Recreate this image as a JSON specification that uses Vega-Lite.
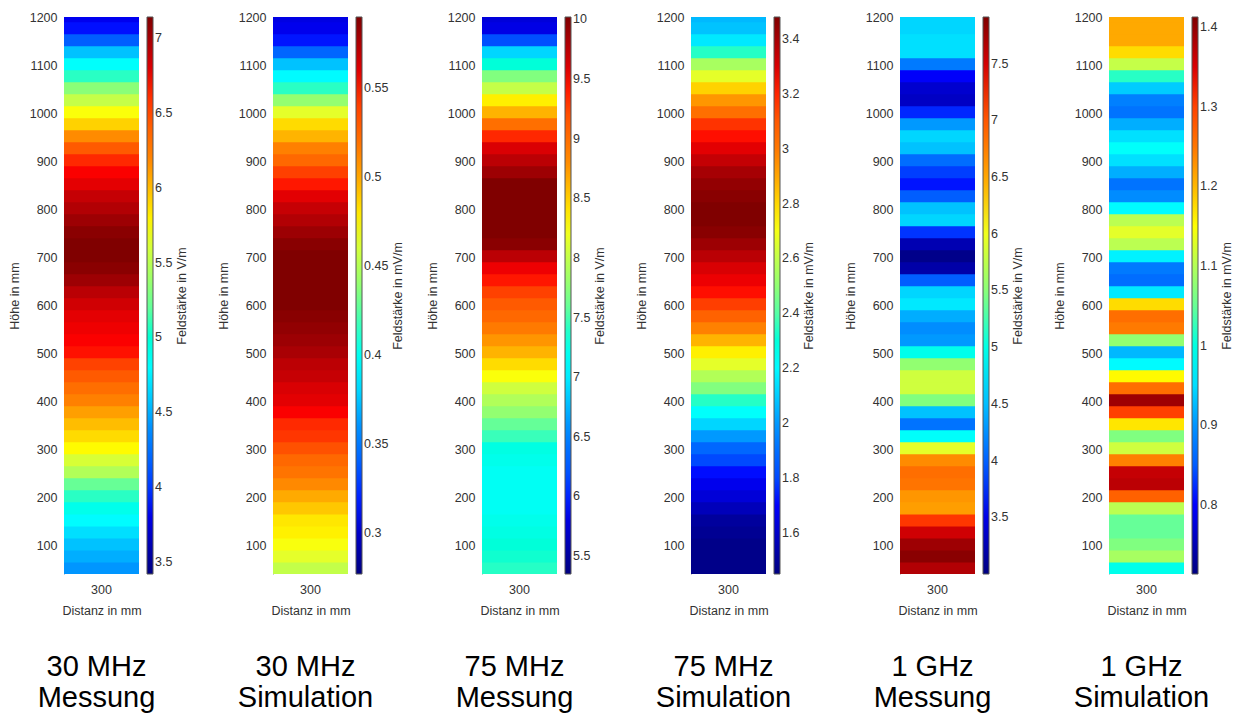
{
  "$schema": "https://vega.github.io/schema/vega-lite/v6.json",
  "padding": {"left": 8, "top": 11, "right": 0, "bottom": 0},
  "background": "white",
  "datasets": {
    "m30": [
      {"d":300,"h0":1187.5,"h1":1212.5,"v":3.83},{"d":300,"h0":1162.5,"h1":1187.5,"v":3.90},{"d":300,"h0":1137.5,"h1":1162.5,"v":4.16},{"d":300,"h0":1112.5,"h1":1137.5,"v":4.57},{"d":300,"h0":1087.5,"h1":1112.5,"v":4.83},{"d":300,"h0":1062.5,"h1":1087.5,"v":5.06},{"d":300,"h0":1037.5,"h1":1062.5,"v":5.32},{"d":300,"h0":1012.5,"h1":1037.5,"v":5.54},{"d":300,"h0":987.5,"h1":1012.5,"v":5.73},{"d":300,"h0":962.5,"h1":987.5,"v":5.91},{"d":300,"h0":937.5,"h1":962.5,"v":6.17},{"d":300,"h0":912.5,"h1":937.5,"v":6.43},{"d":300,"h0":887.5,"h1":912.5,"v":6.62},{"d":300,"h0":862.5,"h1":887.5,"v":6.69},{"d":300,"h0":837.5,"h1":862.5,"v":6.77},{"d":300,"h0":812.5,"h1":837.5,"v":6.88},{"d":300,"h0":787.5,"h1":812.5,"v":6.95},{"d":300,"h0":762.5,"h1":787.5,"v":7.03},{"d":300,"h0":737.5,"h1":762.5,"v":7.10},{"d":300,"h0":712.5,"h1":737.5,"v":7.14},{"d":300,"h0":687.5,"h1":712.5,"v":7.14},{"d":300,"h0":662.5,"h1":687.5,"v":7.10},{"d":300,"h0":637.5,"h1":662.5,"v":7.03},{"d":300,"h0":612.5,"h1":637.5,"v":6.92},{"d":300,"h0":587.5,"h1":612.5,"v":6.84},{"d":300,"h0":562.5,"h1":587.5,"v":6.77},{"d":300,"h0":537.5,"h1":562.5,"v":6.73},{"d":300,"h0":512.5,"h1":537.5,"v":6.69},{"d":300,"h0":487.5,"h1":512.5,"v":6.66},{"d":300,"h0":462.5,"h1":487.5,"v":6.54},{"d":300,"h0":437.5,"h1":462.5,"v":6.43},{"d":300,"h0":412.5,"h1":437.5,"v":6.32},{"d":300,"h0":387.5,"h1":412.5,"v":6.21},{"d":300,"h0":362.5,"h1":387.5,"v":6.10},{"d":300,"h0":337.5,"h1":362.5,"v":5.99},{"d":300,"h0":312.5,"h1":337.5,"v":5.88},{"d":300,"h0":287.5,"h1":312.5,"v":5.76},{"d":300,"h0":262.5,"h1":287.5,"v":5.61},{"d":300,"h0":237.5,"h1":262.5,"v":5.47},{"d":300,"h0":212.5,"h1":237.5,"v":5.21},{"d":300,"h0":187.5,"h1":212.5,"v":5.06},{"d":300,"h0":162.5,"h1":187.5,"v":4.91},{"d":300,"h0":137.5,"h1":162.5,"v":4.80},{"d":300,"h0":112.5,"h1":137.5,"v":4.68},{"d":300,"h0":87.5,"h1":112.5,"v":4.57},{"d":300,"h0":62.5,"h1":87.5,"v":4.50},{"d":300,"h0":37.5,"h1":62.5,"v":4.42}
    ],
    "s30": [
      {"d":300,"h0":1187.5,"h1":1212.5,"v":0.308},{"d":300,"h0":1162.5,"h1":1187.5,"v":0.311},{"d":300,"h0":1137.5,"h1":1162.5,"v":0.318},{"d":300,"h0":1112.5,"h1":1137.5,"v":0.343},{"d":300,"h0":1087.5,"h1":1112.5,"v":0.374},{"d":300,"h0":1062.5,"h1":1087.5,"v":0.393},{"d":300,"h0":1037.5,"h1":1062.5,"v":0.415},{"d":300,"h0":1012.5,"h1":1037.5,"v":0.440},{"d":300,"h0":987.5,"h1":1012.5,"v":0.465},{"d":300,"h0":962.5,"h1":987.5,"v":0.484},{"d":300,"h0":937.5,"h1":962.5,"v":0.496},{"d":300,"h0":912.5,"h1":937.5,"v":0.512},{"d":300,"h0":887.5,"h1":912.5,"v":0.524},{"d":300,"h0":862.5,"h1":887.5,"v":0.540},{"d":300,"h0":837.5,"h1":862.5,"v":0.549},{"d":300,"h0":812.5,"h1":837.5,"v":0.559},{"d":300,"h0":787.5,"h1":812.5,"v":0.568},{"d":300,"h0":762.5,"h1":787.5,"v":0.574},{"d":300,"h0":737.5,"h1":762.5,"v":0.581},{"d":300,"h0":712.5,"h1":737.5,"v":0.587},{"d":300,"h0":687.5,"h1":712.5,"v":0.590},{"d":300,"h0":662.5,"h1":687.5,"v":0.590},{"d":300,"h0":637.5,"h1":662.5,"v":0.590},{"d":300,"h0":612.5,"h1":637.5,"v":0.590},{"d":300,"h0":587.5,"h1":612.5,"v":0.590},{"d":300,"h0":562.5,"h1":587.5,"v":0.587},{"d":300,"h0":537.5,"h1":562.5,"v":0.584},{"d":300,"h0":512.5,"h1":537.5,"v":0.581},{"d":300,"h0":487.5,"h1":512.5,"v":0.577},{"d":300,"h0":462.5,"h1":487.5,"v":0.571},{"d":300,"h0":437.5,"h1":462.5,"v":0.568},{"d":300,"h0":412.5,"h1":437.5,"v":0.562},{"d":300,"h0":387.5,"h1":412.5,"v":0.559},{"d":300,"h0":362.5,"h1":387.5,"v":0.552},{"d":300,"h0":337.5,"h1":362.5,"v":0.546},{"d":300,"h0":312.5,"h1":337.5,"v":0.543},{"d":300,"h0":287.5,"h1":312.5,"v":0.534},{"d":300,"h0":262.5,"h1":287.5,"v":0.524},{"d":300,"h0":237.5,"h1":262.5,"v":0.518},{"d":300,"h0":212.5,"h1":237.5,"v":0.509},{"d":300,"h0":187.5,"h1":212.5,"v":0.499},{"d":300,"h0":162.5,"h1":187.5,"v":0.490},{"d":300,"h0":137.5,"h1":162.5,"v":0.480},{"d":300,"h0":112.5,"h1":137.5,"v":0.477},{"d":300,"h0":87.5,"h1":112.5,"v":0.471},{"d":300,"h0":62.5,"h1":87.5,"v":0.465},{"d":300,"h0":37.5,"h1":62.5,"v":0.455}
    ],
    "m75": [
      {"d":300,"h0":1187.5,"h1":1212.5,"v":5.77},{"d":300,"h0":1162.5,"h1":1187.5,"v":5.82},{"d":300,"h0":1137.5,"h1":1162.5,"v":6.19},{"d":300,"h0":1112.5,"h1":1137.5,"v":6.89},{"d":300,"h0":1087.5,"h1":1112.5,"v":7.31},{"d":300,"h0":1062.5,"h1":1087.5,"v":7.69},{"d":300,"h0":1037.5,"h1":1062.5,"v":8.01},{"d":300,"h0":1012.5,"h1":1037.5,"v":8.34},{"d":300,"h0":987.5,"h1":1012.5,"v":8.62},{"d":300,"h0":962.5,"h1":987.5,"v":8.99},{"d":300,"h0":937.5,"h1":962.5,"v":9.37},{"d":300,"h0":912.5,"h1":937.5,"v":9.60},{"d":300,"h0":887.5,"h1":912.5,"v":9.74},{"d":300,"h0":862.5,"h1":887.5,"v":9.88},{"d":300,"h0":837.5,"h1":862.5,"v":10.02},{"d":300,"h0":812.5,"h1":837.5,"v":10.02},{"d":300,"h0":787.5,"h1":812.5,"v":10.02},{"d":300,"h0":762.5,"h1":787.5,"v":10.02},{"d":300,"h0":737.5,"h1":762.5,"v":10.02},{"d":300,"h0":712.5,"h1":737.5,"v":9.97},{"d":300,"h0":687.5,"h1":712.5,"v":9.74},{"d":300,"h0":662.5,"h1":687.5,"v":9.51},{"d":300,"h0":637.5,"h1":662.5,"v":9.41},{"d":300,"h0":612.5,"h1":637.5,"v":9.27},{"d":300,"h0":587.5,"h1":612.5,"v":9.13},{"d":300,"h0":562.5,"h1":587.5,"v":9.04},{"d":300,"h0":537.5,"h1":562.5,"v":8.90},{"d":300,"h0":512.5,"h1":537.5,"v":8.76},{"d":300,"h0":487.5,"h1":512.5,"v":8.62},{"d":300,"h0":462.5,"h1":487.5,"v":8.43},{"d":300,"h0":437.5,"h1":462.5,"v":8.25},{"d":300,"h0":412.5,"h1":437.5,"v":8.06},{"d":300,"h0":387.5,"h1":412.5,"v":7.92},{"d":300,"h0":362.5,"h1":387.5,"v":7.78},{"d":300,"h0":337.5,"h1":362.5,"v":7.59},{"d":300,"h0":312.5,"h1":337.5,"v":7.45},{"d":300,"h0":287.5,"h1":312.5,"v":7.26},{"d":300,"h0":262.5,"h1":287.5,"v":7.22},{"d":300,"h0":237.5,"h1":262.5,"v":7.17},{"d":300,"h0":212.5,"h1":237.5,"v":7.17},{"d":300,"h0":187.5,"h1":212.5,"v":7.17},{"d":300,"h0":162.5,"h1":187.5,"v":7.17},{"d":300,"h0":137.5,"h1":162.5,"v":7.22},{"d":300,"h0":112.5,"h1":137.5,"v":7.26},{"d":300,"h0":87.5,"h1":112.5,"v":7.31},{"d":300,"h0":62.5,"h1":87.5,"v":7.36},{"d":300,"h0":37.5,"h1":62.5,"v":7.40}
    ],
    "s75": [
      {"d":300,"h0":1187.5,"h1":1212.5,"v":2.06},{"d":300,"h0":1162.5,"h1":1187.5,"v":2.08},{"d":300,"h0":1137.5,"h1":1162.5,"v":2.16},{"d":300,"h0":1112.5,"h1":1137.5,"v":2.34},{"d":300,"h0":1087.5,"h1":1112.5,"v":2.55},{"d":300,"h0":1062.5,"h1":1087.5,"v":2.67},{"d":300,"h0":1037.5,"h1":1062.5,"v":2.81},{"d":300,"h0":1012.5,"h1":1037.5,"v":2.93},{"d":300,"h0":987.5,"h1":1012.5,"v":3.03},{"d":300,"h0":962.5,"h1":987.5,"v":3.18},{"d":300,"h0":937.5,"h1":962.5,"v":3.22},{"d":300,"h0":912.5,"h1":937.5,"v":3.28},{"d":300,"h0":887.5,"h1":912.5,"v":3.34},{"d":300,"h0":862.5,"h1":887.5,"v":3.40},{"d":300,"h0":837.5,"h1":862.5,"v":3.44},{"d":300,"h0":812.5,"h1":837.5,"v":3.46},{"d":300,"h0":787.5,"h1":812.5,"v":3.48},{"d":300,"h0":762.5,"h1":787.5,"v":3.48},{"d":300,"h0":737.5,"h1":762.5,"v":3.46},{"d":300,"h0":712.5,"h1":737.5,"v":3.42},{"d":300,"h0":687.5,"h1":712.5,"v":3.36},{"d":300,"h0":662.5,"h1":687.5,"v":3.30},{"d":300,"h0":637.5,"h1":662.5,"v":3.26},{"d":300,"h0":612.5,"h1":637.5,"v":3.22},{"d":300,"h0":587.5,"h1":612.5,"v":3.16},{"d":300,"h0":562.5,"h1":587.5,"v":3.07},{"d":300,"h0":537.5,"h1":562.5,"v":2.97},{"d":300,"h0":512.5,"h1":537.5,"v":2.87},{"d":300,"h0":487.5,"h1":512.5,"v":2.75},{"d":300,"h0":462.5,"h1":487.5,"v":2.67},{"d":300,"h0":437.5,"h1":462.5,"v":2.57},{"d":300,"h0":412.5,"h1":437.5,"v":2.47},{"d":300,"h0":387.5,"h1":412.5,"v":2.34},{"d":300,"h0":362.5,"h1":387.5,"v":2.22},{"d":300,"h0":337.5,"h1":362.5,"v":2.12},{"d":300,"h0":312.5,"h1":337.5,"v":2.00},{"d":300,"h0":287.5,"h1":312.5,"v":1.88},{"d":300,"h0":262.5,"h1":287.5,"v":1.80},{"d":300,"h0":237.5,"h1":262.5,"v":1.71},{"d":300,"h0":212.5,"h1":237.5,"v":1.67},{"d":300,"h0":187.5,"h1":212.5,"v":1.63},{"d":300,"h0":162.5,"h1":187.5,"v":1.57},{"d":300,"h0":137.5,"h1":162.5,"v":1.51},{"d":300,"h0":112.5,"h1":137.5,"v":1.49},{"d":300,"h0":87.5,"h1":112.5,"v":1.47},{"d":300,"h0":62.5,"h1":87.5,"v":1.47},{"d":300,"h0":37.5,"h1":62.5,"v":1.47}
    ],
    "m1g": [
      {"d":300,"h0":1187.5,"h1":1212.5,"v":4.62},{"d":300,"h0":1162.5,"h1":1187.5,"v":4.62},{"d":300,"h0":1137.5,"h1":1162.5,"v":4.67},{"d":300,"h0":1112.5,"h1":1137.5,"v":4.67},{"d":300,"h0":1087.5,"h1":1112.5,"v":4.18},{"d":300,"h0":1062.5,"h1":1087.5,"v":3.59},{"d":300,"h0":1037.5,"h1":1062.5,"v":3.39},{"d":300,"h0":1012.5,"h1":1037.5,"v":3.34},{"d":300,"h0":987.5,"h1":1012.5,"v":3.69},{"d":300,"h0":962.5,"h1":987.5,"v":4.33},{"d":300,"h0":937.5,"h1":962.5,"v":4.62},{"d":300,"h0":912.5,"h1":937.5,"v":4.52},{"d":300,"h0":887.5,"h1":912.5,"v":4.08},{"d":300,"h0":862.5,"h1":887.5,"v":3.79},{"d":300,"h0":837.5,"h1":862.5,"v":3.64},{"d":300,"h0":812.5,"h1":837.5,"v":3.98},{"d":300,"h0":787.5,"h1":812.5,"v":4.52},{"d":300,"h0":762.5,"h1":787.5,"v":4.62},{"d":300,"h0":737.5,"h1":762.5,"v":3.74},{"d":300,"h0":712.5,"h1":737.5,"v":3.25},{"d":300,"h0":687.5,"h1":712.5,"v":3.05},{"d":300,"h0":662.5,"h1":687.5,"v":3.20},{"d":300,"h0":637.5,"h1":662.5,"v":3.98},{"d":300,"h0":612.5,"h1":637.5,"v":4.62},{"d":300,"h0":587.5,"h1":612.5,"v":4.72},{"d":300,"h0":562.5,"h1":587.5,"v":4.42},{"d":300,"h0":537.5,"h1":562.5,"v":4.28},{"d":300,"h0":512.5,"h1":537.5,"v":4.33},{"d":300,"h0":487.5,"h1":512.5,"v":4.96},{"d":300,"h0":462.5,"h1":487.5,"v":5.55},{"d":300,"h0":437.5,"h1":462.5,"v":5.85},{"d":300,"h0":412.5,"h1":437.5,"v":5.85},{"d":300,"h0":387.5,"h1":412.5,"v":5.46},{"d":300,"h0":362.5,"h1":387.5,"v":4.52},{"d":300,"h0":337.5,"h1":362.5,"v":4.13},{"d":300,"h0":312.5,"h1":337.5,"v":4.87},{"d":300,"h0":287.5,"h1":312.5,"v":5.95},{"d":300,"h0":262.5,"h1":287.5,"v":6.63},{"d":300,"h0":237.5,"h1":262.5,"v":6.83},{"d":300,"h0":212.5,"h1":237.5,"v":6.78},{"d":300,"h0":187.5,"h1":212.5,"v":6.58},{"d":300,"h0":162.5,"h1":187.5,"v":6.54},{"d":300,"h0":137.5,"h1":162.5,"v":7.17},{"d":300,"h0":112.5,"h1":137.5,"v":7.52},{"d":300,"h0":87.5,"h1":112.5,"v":7.76},{"d":300,"h0":62.5,"h1":87.5,"v":7.86},{"d":300,"h0":37.5,"h1":62.5,"v":7.66}
    ],
    "s1g": [
      {"d":300,"h0":1187.5,"h1":1212.5,"v":1.21},{"d":300,"h0":1162.5,"h1":1187.5,"v":1.21},{"d":300,"h0":1137.5,"h1":1162.5,"v":1.21},{"d":300,"h0":1112.5,"h1":1137.5,"v":1.175},{"d":300,"h0":1087.5,"h1":1112.5,"v":1.112},{"d":300,"h0":1062.5,"h1":1087.5,"v":1.021},{"d":300,"h0":1037.5,"h1":1062.5,"v":0.937},{"d":300,"h0":1012.5,"h1":1037.5,"v":0.888},{"d":300,"h0":987.5,"h1":1012.5,"v":0.874},{"d":300,"h0":962.5,"h1":987.5,"v":0.916},{"d":300,"h0":937.5,"h1":962.5,"v":0.951},{"d":300,"h0":912.5,"h1":937.5,"v":0.979},{"d":300,"h0":887.5,"h1":912.5,"v":0.951},{"d":300,"h0":862.5,"h1":887.5,"v":0.916},{"d":300,"h0":837.5,"h1":862.5,"v":0.874},{"d":300,"h0":812.5,"h1":837.5,"v":0.895},{"d":300,"h0":787.5,"h1":812.5,"v":0.972},{"d":300,"h0":762.5,"h1":787.5,"v":1.105},{"d":300,"h0":737.5,"h1":762.5,"v":1.133},{"d":300,"h0":712.5,"h1":737.5,"v":1.105},{"d":300,"h0":687.5,"h1":712.5,"v":0.965},{"d":300,"h0":662.5,"h1":687.5,"v":0.881},{"d":300,"h0":637.5,"h1":662.5,"v":0.867},{"d":300,"h0":612.5,"h1":637.5,"v":0.958},{"d":300,"h0":587.5,"h1":612.5,"v":1.175},{"d":300,"h0":562.5,"h1":587.5,"v":1.259},{"d":300,"h0":537.5,"h1":562.5,"v":1.245},{"d":300,"h0":512.5,"h1":537.5,"v":1.077},{"d":300,"h0":487.5,"h1":512.5,"v":0.923},{"d":300,"h0":462.5,"h1":487.5,"v":0.972},{"d":300,"h0":437.5,"h1":462.5,"v":1.154},{"d":300,"h0":412.5,"h1":437.5,"v":1.259},{"d":300,"h0":387.5,"h1":412.5,"v":1.392},{"d":300,"h0":362.5,"h1":387.5,"v":1.301},{"d":300,"h0":337.5,"h1":362.5,"v":1.168},{"d":300,"h0":312.5,"h1":337.5,"v":1.063},{"d":300,"h0":287.5,"h1":312.5,"v":1.119},{"d":300,"h0":262.5,"h1":287.5,"v":1.238},{"d":300,"h0":237.5,"h1":262.5,"v":1.364},{"d":300,"h0":212.5,"h1":237.5,"v":1.371},{"d":300,"h0":187.5,"h1":212.5,"v":1.273},{"d":300,"h0":162.5,"h1":187.5,"v":1.105},{"d":300,"h0":137.5,"h1":162.5,"v":1.049},{"d":300,"h0":112.5,"h1":137.5,"v":1.049},{"d":300,"h0":87.5,"h1":112.5,"v":1.063},{"d":300,"h0":62.5,"h1":87.5,"v":1.091},{"d":300,"h0":37.5,"h1":62.5,"v":0.993}
    ]
  },
  "hconcat": [
    {
      "width": 75, "height": 557,
      "data": {"name": "m30"},
      "title": {"text": ["30 MHz", "Messung"]},
      "mark": {"type": "rect", "clip": true, "y2Offset": -0.8},
      "encoding": {
        "x": {"field": "d", "type": "ordinal", "scale": {"paddingInner": 0, "paddingOuter": 0}, "axis": {"title": "Distanz in mm"}},
        "y": {"field": "h0", "type": "quantitative", "scale": {"domain": [40, 1200], "nice": false, "zero": false}, "axis": {"title": "Höhe in mm", "values": [100,200,300,400,500,600,700,800,900,1000,1100,1200], "format": "d"}},
        "y2": {"field": "h1"},
        "color": {"field": "v", "type": "quantitative",
          "scale": {"domain": [3.42, 3.885, 4.35, 4.815, 5.28, 5.745, 6.21, 6.675, 7.14], "range": ["#000080","#0000ff","#0080ff","#00ffff","#80ff80","#ffff00","#ff8000","#ff0000","#800000"]},
          "legend": {"title": "Feldstärke in V/m", "values": [3.5,4,4.5,5,5.5,6,6.5,7], "format": "~g", "encode": {"title": {"update": {"angle": {"value": 270}}}}}}
      }
    },
    {
      "width": 75, "height": 557,
      "data": {"name": "s30"},
      "title": {"text": ["30 MHz", "Simulation"]},
      "mark": {"type": "rect", "clip": true, "y2Offset": -0.8},
      "encoding": {
        "x": {"field": "d", "type": "ordinal", "scale": {"paddingInner": 0, "paddingOuter": 0}, "axis": {"title": "Distanz in mm"}},
        "y": {"field": "h0", "type": "quantitative", "scale": {"domain": [40, 1200], "nice": false, "zero": false}, "axis": {"title": "Höhe in mm", "values": [100,200,300,400,500,600,700,800,900,1000,1100,1200], "format": "d"}},
        "y2": {"field": "h1"},
        "color": {"field": "v", "type": "quantitative",
          "scale": {"domain": [0.277, 0.316125, 0.35525, 0.394375, 0.4335, 0.472625, 0.51175, 0.550875, 0.59], "range": ["#000080","#0000ff","#0080ff","#00ffff","#80ff80","#ffff00","#ff8000","#ff0000","#800000"]},
          "legend": {"title": "Feldstärke in mV/m", "values": [0.3,0.35,0.4,0.45,0.5,0.55], "format": "~g", "encode": {"title": {"update": {"angle": {"value": 270}}}}}}
      }
    },
    {
      "width": 75, "height": 557,
      "data": {"name": "m75"},
      "title": {"text": ["75 MHz", "Messung"]},
      "mark": {"type": "rect", "clip": true, "y2Offset": -0.8},
      "encoding": {
        "x": {"field": "d", "type": "ordinal", "scale": {"paddingInner": 0, "paddingOuter": 0}, "axis": {"title": "Distanz in mm"}},
        "y": {"field": "h0", "type": "quantitative", "scale": {"domain": [40, 1200], "nice": false, "zero": false}, "axis": {"title": "Höhe in mm", "values": [100,200,300,400,500,600,700,800,900,1000,1100,1200], "format": "d"}},
        "y2": {"field": "h1"},
        "color": {"field": "v", "type": "quantitative",
          "scale": {"domain": [5.35, 5.93375, 6.5175, 7.10125, 7.685, 8.26875, 8.8525, 9.43625, 10.02], "range": ["#000080","#0000ff","#0080ff","#00ffff","#80ff80","#ffff00","#ff8000","#ff0000","#800000"]},
          "legend": {"title": "Feldstärke in V/m", "values": [5.5,6,6.5,7,7.5,8,8.5,9,9.5,10], "format": "~g", "encode": {"title": {"update": {"angle": {"value": 270}}}}}}
      }
    },
    {
      "width": 75, "height": 557,
      "data": {"name": "s75"},
      "title": {"text": ["75 MHz", "Simulation"]},
      "mark": {"type": "rect", "clip": true, "y2Offset": -0.8},
      "encoding": {
        "x": {"field": "d", "type": "ordinal", "scale": {"paddingInner": 0, "paddingOuter": 0}, "axis": {"title": "Distanz in mm"}},
        "y": {"field": "h0", "type": "quantitative", "scale": {"domain": [40, 1200], "nice": false, "zero": false}, "axis": {"title": "Höhe in mm", "values": [100,200,300,400,500,600,700,800,900,1000,1100,1200], "format": "d"}},
        "y2": {"field": "h1"},
        "color": {"field": "v", "type": "quantitative",
          "scale": {"domain": [1.45, 1.70375, 1.9575, 2.21125, 2.465, 2.71875, 2.9725, 3.22625, 3.48], "range": ["#000080","#0000ff","#0080ff","#00ffff","#80ff80","#ffff00","#ff8000","#ff0000","#800000"]},
          "legend": {"title": "Feldstärke in mV/m", "values": [1.6,1.8,2,2.2,2.4,2.6,2.8,3,3.2,3.4], "format": "~g", "encode": {"title": {"update": {"angle": {"value": 270}}}}}}
      }
    },
    {
      "width": 75, "height": 557,
      "data": {"name": "m1g"},
      "title": {"text": ["1 GHz", "Messung"]},
      "mark": {"type": "rect", "clip": true, "y2Offset": -0.8},
      "encoding": {
        "x": {"field": "d", "type": "ordinal", "scale": {"paddingInner": 0, "paddingOuter": 0}, "axis": {"title": "Distanz in mm"}},
        "y": {"field": "h0", "type": "quantitative", "scale": {"domain": [40, 1200], "nice": false, "zero": false}, "axis": {"title": "Höhe in mm", "values": [100,200,300,400,500,600,700,800,900,1000,1100,1200], "format": "d"}},
        "y2": {"field": "h1"},
        "color": {"field": "v", "type": "quantitative",
          "scale": {"domain": [3.0, 3.61375, 4.2275, 4.84125, 5.455, 6.06875, 6.6825, 7.29625, 7.91], "range": ["#000080","#0000ff","#0080ff","#00ffff","#80ff80","#ffff00","#ff8000","#ff0000","#800000"]},
          "legend": {"title": "Feldstärke in V/m", "values": [3.5,4,4.5,5,5.5,6,6.5,7,7.5], "format": "~g", "encode": {"title": {"update": {"angle": {"value": 270}}}}}}
      }
    },
    {
      "width": 75, "height": 557,
      "data": {"name": "s1g"},
      "title": {"text": ["1 GHz", "Simulation"]},
      "mark": {"type": "rect", "clip": true, "y2Offset": -0.8},
      "encoding": {
        "x": {"field": "d", "type": "ordinal", "scale": {"paddingInner": 0, "paddingOuter": 0}, "axis": {"title": "Distanz in mm"}},
        "y": {"field": "h0", "type": "quantitative", "scale": {"domain": [40, 1200], "nice": false, "zero": false}, "axis": {"title": "Höhe in mm", "values": [100,200,300,400,500,600,700,800,900,1000,1100,1200], "format": "d"}},
        "y2": {"field": "h1"},
        "color": {"field": "v", "type": "quantitative",
          "scale": {"domain": [0.713, 0.8005, 0.888, 0.9755, 1.063, 1.1505, 1.238, 1.3255, 1.413], "range": ["#000080","#0000ff","#0080ff","#00ffff","#80ff80","#ffff00","#ff8000","#ff0000","#800000"]},
          "legend": {"title": "Feldstärke in mV/m", "values": [0.8,0.9,1,1.1,1.2,1.3,1.4], "format": "~g", "encode": {"title": {"update": {"angle": {"value": 270}}}}}}
      }
    }
  ],
  "bounds": "flush",
  "spacing": 134,
  "resolve": {"scale": {"color": "independent", "x": "independent", "y": "independent"}, "legend": {"color": "independent"}},
  "config": {
    "font": "Liberation Sans",
    "view": {"stroke": null},
    "axis": {"labelFont": "Liberation Sans", "titleFont": "Liberation Sans", "labelColor": "#333333", "titleColor": "#333333", "labelFontSize": 12.5, "titleFontSize": 12.5, "titleFontWeight": "normal", "grid": false, "ticks": false},
    "axisY": {"domainColor": "#9a9a9a", "labelPadding": 7, "titlePadding": 8},
    "axisX": {"domain": false, "labelPadding": 9, "titlePadding": 9, "labelAngle": 0},
    "legend": {"gradientLength": 557, "gradientThickness": 6, "offset": 8, "labelFont": "Liberation Sans", "labelFontSize": 12.5, "labelColor": "#333333", "labelOffset": 5, "gradientStrokeColor": "#555555", "gradientStrokeWidth": 1, "titleOrient": "right", "titleFont": "Liberation Sans", "titleFontSize": 12.5, "titleFontWeight": "normal", "titleColor": "#333333", "titleAnchor": "middle", "titleAlign": "center", "titleBaseline": "top", "labelOverlap": false, "padding": 0, "titlePadding": 4},
    "title": {"orient": "bottom", "font": "Liberation Sans", "fontSize": 29, "fontWeight": "normal", "color": "#000000", "lineHeight": 31, "offset": 36, "dx": -5, "anchor": "middle"}
  }
}
